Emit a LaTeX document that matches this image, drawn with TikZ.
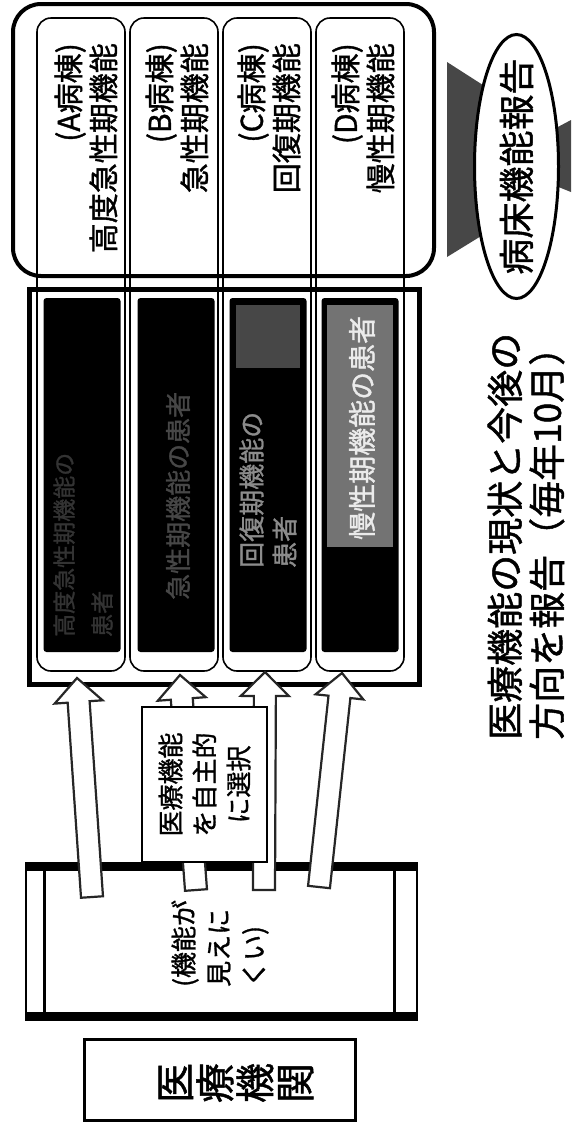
\documentclass[tikz,border=0pt]{standalone}
\usepackage{fontspec}
\newfontfamily\jp[FakeBold=1.2]{Noto Sans CJK JP}
\newcommand\jfs[2]{\jp\fontsize{#1}{#2}\selectfont}
\usetikzlibrary{shapes.geometric,calc}
\begin{document}
\begin{tikzpicture}[x=1pt,y=-1pt,
  txt/.style={inner sep=0pt, rotate=90},
  outerbox/.style={draw, line width=4pt, rounded corners=28pt, fill=white, minimum width=421pt, minimum height=272pt},
  bigsq/.style={draw, line width=5pt, fill=white, minimum width=390pt, minimum height=395pt},
  ward/.style={draw, line width=1.6pt, rounded corners=14pt, minimum width=88pt, minimum height=653pt},
  panel/.style={fill=black, rounded corners=3pt, minimum width=77pt, minimum height=354pt, inner sep=0pt},
  fatarrow/.style={fill=white, draw=black!85, line width=2.2pt, line join=miter},
  grayblock/.style={fill=black!72}
]
\fill[white] (0,0) rectangle (571,1128);
\useasboundingbox (0,0) rectangle (571,1128);

% top rounded frame
\node[outerbox] (frame) at (223.5,140) {};

% gray funnel behind the ellipse
\fill[grayblock] (447,62) -- (486,87) -- (486,233) -- (447,257) -- cycle;
\fill[grayblock] (556,128) -- (571,120) -- (571,192) -- (556,186) -- cycle;
\node[ellipse, draw, line width=3pt, fill=white, minimum width=84pt, minimum height=264pt, inner sep=0pt] (rep) at (516.5,166.5) {};
\node[txt, font=\jfs{36}{40}] (reptext) at (rep.center) {病床機能報告};

% hospital building square
\node[bigsq] (bldg) at (224.5,487) {};

% dark panels (patients)
\node[panel] (pA) at (82,475) {};
\node[panel] (pB) at (176,475) {};
\node[panel] (pC) at (268,475) {};
\node[panel] (pD) at (360,475) {};
\fill[black!72] (236,305) rectangle (300,368);
\fill[black!55] (327,305) rectangle (393,547);

% ward columns
\node[ward] (wA) at (81,344.5) {};
\node[ward] (wB) at (174,344.5) {};
\node[ward] (wC) at (267,344.5) {};
\node[ward] (wD) at (360,344.5) {};

% ward labels
\node[txt, anchor=east, align=right, font=\jfs{30}{35}] (lA) at (86,43) {(A病棟)\\高度急性期機能};
\node[txt, anchor=east, align=right, font=\jfs{30}{35}] (lB) at (177,43) {(B病棟)\\急性期機能};
\node[txt, anchor=east, align=right, font=\jfs{30}{35}] (lC) at (269,43) {(C病棟)\\回復期機能};
\node[txt, anchor=east, align=right, font=\jfs{30}{35}] (lD) at (363,43) {(D病棟)\\慢性期機能};

% panel texts
\node[txt, anchor=west, align=left, font=\jfs{23}{38}, text=black!80] (tA) at (83,637) {高度急性期機能の\\患者};
\node[txt, anchor=west, align=left, font=\jfs{26}{32}, text=black!72] (tB) at (178,600) {急性期機能の患者};
\node[txt, anchor=west, align=left, font=\jfs{26}{33}, text=black!45] (tC) at (268,568) {回復期機能の\\患者};
\node[txt, anchor=west, align=left, font=\jfs{28}{32}, text=black!8] (tD) at (362,540) {慢性期機能の患者};

% lower box (functions hard to see)
\node[draw, line width=2pt, fill=white, minimum width=391pt, minimum height=155pt] (vis) at (221.5,941.5) {};
\draw[line width=9pt] ([yshift=-3.5pt]vis.north west) -- ([yshift=-3.5pt]vis.north east);
\draw[line width=9pt] ([yshift=3.5pt]vis.south west) -- ([yshift=3.5pt]vis.south east);
\draw[line width=3pt] ([xshift=19pt]vis.north west) -- ([xshift=19pt]vis.south west);
\draw[line width=3pt] ([xshift=-24pt]vis.north east) -- ([xshift=-24pt]vis.south east);
\node[txt, anchor=west, align=left, font=\jfs{26}{35}] (vistext) at (220,987) {(機能が\\見えに\\くい)};

% arrows from the hospital to the wards
\coordinate (sA) at (92,897);  \coordinate (eA) at (77,678);
\coordinate (sB) at (196,890); \coordinate (eB) at (180,675);
\coordinate (sC) at (264,890); \coordinate (eC) at (265,672);
\coordinate (sD) at (319,887); \coordinate (eD) at (342,673);
\foreach \s/\e in {sA/eA, sB/eB, sC/eC, sD/eD}{
  \path ($(\e)!24pt!(\s)$) coordinate (base);
  \draw[fatarrow] ($(\s)!11pt!90:(\e)$) -- ($(base)!11pt!-90:(\s)$) -- ($(base)!24pt!-90:(\s)$)
    -- (\e) -- ($(base)!24pt!90:(\s)$) -- ($(base)!11pt!90:(\s)$) -- ($(\s)!11pt!-90:(\e)$) -- cycle;
}

% choice box
\node[draw, line width=1.5pt, fill=white, rotate=90, minimum width=155pt, minimum height=125pt, inner sep=0pt, align=center, font=\jfs{26}{34}] (choose) at (204.5,784.5) {医療機能\\を自主的\\に選択};

% medical institution
\node[draw, line width=3pt, minimum width=271pt, minimum height=81pt] (hosp) at (220,1080) {};
\node[txt, align=center, font=\jfs{40}{40}] (hosptext) at (236,1083) {医\\療\\機\\関};

% report caption
\node[txt, anchor=west, align=left, font=\jfs{37}{42}] (caption) at (526,740) {医療機能の現状と今後の\\方向を報告（毎年10月）};
\end{tikzpicture}
\end{document}
